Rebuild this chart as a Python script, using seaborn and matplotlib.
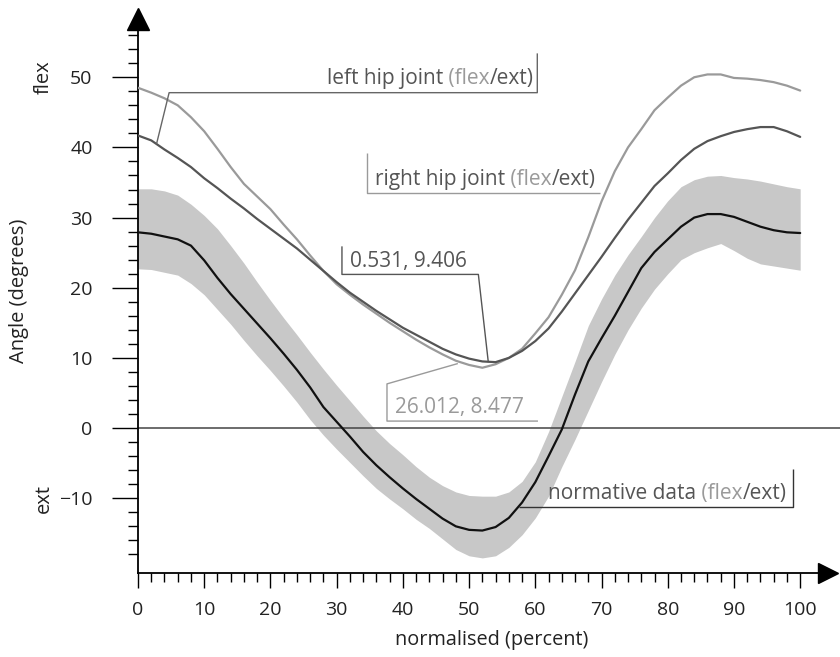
import numpy as np
import pandas as pd
import seaborn as sns
import matplotlib.pyplot as plt

# Data (hip flexion/extension over the gait cycle), every 2 %
pct = list(range(0, 101, 2))
norm_mean = [27.9, 27.7, 27.3, 26.9, 26.0, 23.9, 21.4, 19.1, 17.0, 14.9, 12.8, 10.6, 8.3, 5.8, 3.0, 0.9, -1.2,
             -3.4, -5.3, -7.0, -8.6, -10.1, -11.5, -12.9, -14.0, -14.5, -14.6, -14.1, -12.8, -10.6, -7.7, -4.0,
             -0.2, 4.8, 9.5, 12.8, 16.0, 19.4, 22.8, 25.1, 26.9, 28.7, 30.0, 30.5, 30.5, 30.1, 29.4, 28.7, 28.2,
             27.9, 27.8]
norm_upper = [34.1, 34.1, 33.8, 33.2, 31.9, 30.3, 28.4, 26.0, 23.5, 20.8, 18.2, 15.7, 13.3, 10.8, 8.4, 6.1, 3.9,
              1.7, -0.4, -2.2, -3.8, -5.5, -7.0, -8.2, -9.1, -9.6, -9.7, -9.7, -9.1, -7.6, -4.8, -0.5,
              4.5, 9.5, 14.6, 18.4, 21.8, 24.7, 27.3, 30.0, 32.4, 34.4, 35.4, 35.9, 36.0, 35.7, 35.5, 35.2, 34.8,
              34.4, 34.1]
norm_lower = [22.7, 22.6, 22.2, 21.8, 20.6, 19.0, 16.9, 14.8, 12.5, 10.3, 8.2, 6.0, 3.7, 1.2, -1.0, -3.0, -4.9,
              -6.8, -8.6, -10.1, -11.5, -13.0, -14.3, -15.8, -17.3, -18.2, -18.5, -18.2, -17.0, -15.2, -12.8, -9.7,
              -5.5, -1.6, 2.5, 6.6, 10.5, 14.0, 17.1, 19.8, 22.0, 24.0, 25.0, 25.7, 26.3, 25.3, 24.2, 23.4, 23.1,
              22.8, 22.5]
hip_light = [48.5, 47.8, 47.0, 46.0, 44.3, 42.3, 39.8, 37.2, 34.8, 33.0, 31.2, 29.0, 26.9, 24.6, 22.4, 20.5, 19.0,
             17.6, 16.3, 15.0, 13.8, 12.6, 11.5, 10.5, 9.6, 9.0, 8.6, 9.1, 10.0, 11.3, 13.5, 15.8,
             19.0, 22.5, 27.2, 32.3, 36.6, 40.0, 42.6, 45.3, 47.1, 48.8, 50.0, 50.4, 50.4, 49.9, 49.8, 49.6, 49.3,
             48.8, 48.1]
hip_dark = [41.7, 41.0, 39.7, 38.5, 37.2, 35.6, 34.2, 32.7, 31.3, 29.8, 28.4, 27.0, 25.6, 24.0, 22.4, 20.8, 19.3,
            18.0, 16.7, 15.5, 14.3, 13.3, 12.3, 11.3, 10.5, 9.9, 9.5, 9.4, 10.0, 11.0, 12.4, 14.2,
            16.6, 19.2, 21.8, 24.4, 27.1, 29.7, 32.1, 34.5, 36.3, 38.2, 39.8, 40.9, 41.6, 42.2, 42.6, 42.9, 42.9,
            42.3, 41.5]

df = pd.DataFrame({'pct': pct, 'mean': norm_mean, 'upper': norm_upper, 'lower': norm_lower,
                   'light': hip_light, 'dark': hip_dark})

LIGHT = '#9a9a9a'
DARK = '#555555'

sns.set_theme(style='white')
plt.rcParams['font.family'] = ['Open Sans', 'DejaVu Sans']

fig = plt.figure(figsize=(8.4, 6.57), dpi=100)
ax = fig.add_axes([138 / 840, 1 - 573 / 657, 690 / 840, 554 / 657])

# normative band + curves
ax.fill_between(df['pct'], df['lower'], df['upper'], color='#c8c8c8', lw=0, zorder=1)
sns.lineplot(data=df, x='pct', y='mean', color='#111111', lw=1.6, ax=ax, zorder=4)
sns.lineplot(data=df, x='pct', y='light', color=LIGHT, lw=1.6, ax=ax, zorder=3)
sns.lineplot(data=df, x='pct', y='dark', color=DARK, lw=1.6, ax=ax, zorder=3)

ax.set_xlim(0, 104.2)
ax.set_ylim(-20.65, 58.3)

# zero line runs past the axes to the edge
ax.axhline(0, xmax=1.03, color='#444444', lw=1.1, clip_on=False, zorder=2)

# axes and arrow heads
for s in ['top', 'right']:
    ax.spines[s].set_visible(False)
for s in ['left', 'bottom']:
    ax.spines[s].set_color('black')
    ax.spines[s].set_linewidth(1.3)
ax.plot(0, 1, marker='^', ms=16, color='black', transform=ax.transAxes, clip_on=False)
ax.plot(1, 0, marker='>', ms=14, color='black', transform=ax.transAxes, clip_on=False)

ax.set_xticks(range(0, 101, 10))
ax.set_xticks(range(0, 101, 2), minor=True)
ax.set_yticks(range(-10, 51, 10))
ax.set_yticks(range(-18, 57, 2), minor=True)
ax.tick_params(axis='x', which='major', direction='out', length=11, width=1.0, color='black', pad=9,
               labelsize=14, labelcolor='#222222', bottom=True)
ax.tick_params(axis='x', which='minor', direction='out', length=6.5, width=1.0, color='black', bottom=True)
ax.tick_params(axis='y', which='major', direction='out', length=18.7, width=1.0, color='black', pad=14,
               labelsize=14, labelcolor='#222222', left=True)
ax.tick_params(axis='y', which='minor', direction='out', length=7.2, width=1.0, color='black', left=True)

ax.set_xlabel('normalised (percent)', fontsize=14.3, color='#222222')
ax.xaxis.set_label_coords(0.512, -0.102)
ax.set_ylabel('Angle (degrees)', fontsize=14.5, color='#222222')
ax.yaxis.set_label_coords(-0.172, 0.509)
ax.yaxis.label.set_verticalalignment('center')

lab_tr = ax.get_yaxis_transform()
ax.text(-0.136, 50, 'flex', rotation=90, ha='center', va='center', fontsize=14.5, color='#222222',
        transform=lab_tr)
ax.text(-0.136, -10, 'ext', rotation=90, ha='center', va='center', fontsize=14.5, color='#222222',
        transform=lab_tr)

FS = 15


def chain_right(x, y, parts):
    # parts drawn right to left, ending at (x, y)
    txt = None
    for s, c in reversed(parts):
        if txt is None:
            txt = ax.text(x, y, s, ha='right', va='bottom', fontsize=FS, color=c)
        else:
            txt = ax.annotate(s, xy=(0, 0), xycoords=txt, ha='right', va='bottom', fontsize=FS, color=c)


def chain_left(x, y, parts):
    txt = None
    for s, c in parts:
        if txt is None:
            txt = ax.text(x, y, s, ha='left', va='bottom', fontsize=FS, color=c)
        else:
            txt = ax.annotate(s, xy=(1, 0), xycoords=txt, ha='left', va='bottom', fontsize=FS, color=c)


line_kw = dict(lw=1.0, solid_capstyle='butt', zorder=5)

# left hip joint label
ax.plot([2.8, 4.7, 60.3, 60.3], [40.5, 47.8, 47.8, 53.4], color='#666666', **line_kw)
chain_right(59.7, 48.3, [('left hip joint', DARK), (' (flex', LIGHT), ('/ext)', DARK)])

# right hip joint label
ax.plot([34.6, 34.6, 69.8], [39.2, 33.5, 33.5], color=LIGHT, **line_kw)
chain_left(35.8, 34.0, [('right hip joint', DARK), (' (flex', LIGHT), ('/ext)', DARK)])

# minimum of dark curve
ax.plot([30.8, 30.8, 51.4, 52.9], [25.9, 21.9, 21.9, 9.4], color=DARK, **line_kw)
chain_left(32.0, 22.3, [('0.531, 9.406', DARK)])

# minimum of light curve
ax.plot([48.3, 37.6, 37.6, 60.4], [9.2, 6.3, 1.0, 1.0], color=LIGHT, **line_kw)
chain_left(38.8, 1.5, [('26.012, 8.477', LIGHT)])

# normative label
ax.plot([57.6, 98.9, 98.9], [-11.3, -11.3, -5.8], color='#333333', **line_kw)
chain_right(97.9, -10.8, [('normative data', DARK), (' (flex', LIGHT), ('/ext)', DARK)])

fig.savefig('out.png', dpi=100)
